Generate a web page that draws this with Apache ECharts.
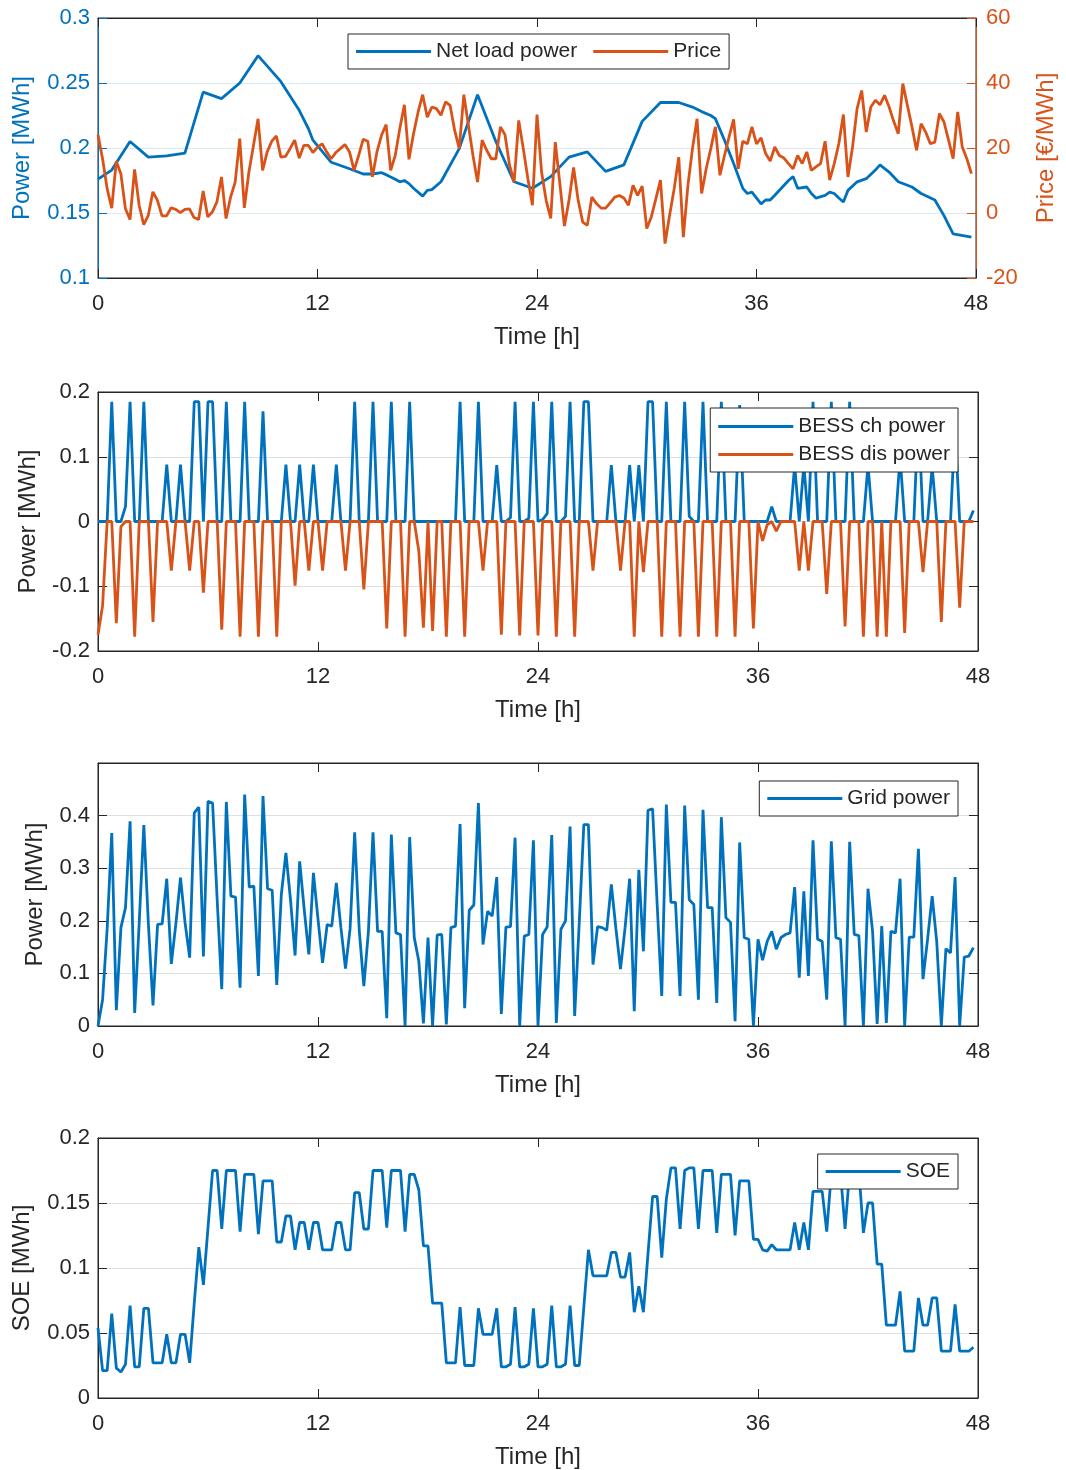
<!DOCTYPE html>
<html>
<head>
<meta charset="utf-8">
<title>BESS operation over 48 h</title>
<script src="https://cdn.jsdelivr.net/npm/echarts@6/dist/echarts.min.js"></script>
<style>
  html, body { margin: 0; padding: 0; background: #ffffff; }
  #chart { width: 1066px; height: 1470px; }
</style>
</head>
<body>
<div id="chart"></div>
<script>
// ---- data: 15-minute resolution over 48 hours (192 steps) ----
const STEP_HOURS = 0.25;
const timeTicks = { min: 0, max: 48, interval: 12 };

// Net load power [MWh]: [time h, value]
const netLoadPower = [
  [0, 0.176], [0.75, 0.183], [1.75, 0.205], [2.75, 0.193], [3.75, 0.194], [4.75, 0.196],
  [5.75, 0.243], [6.75, 0.238], [7.75, 0.25], [8.75, 0.271], [10, 0.251], [11, 0.229],
  [11.5, 0.215], [11.75, 0.206], [12.75, 0.189], [13.75, 0.184], [14.5, 0.18], [15, 0.18],
  [15.5, 0.181], [15.75, 0.1795], [16.25, 0.176], [16.5, 0.174], [16.75, 0.175], [17, 0.1726],
  [17.25, 0.169], [17.75, 0.163], [18, 0.1674], [18.25, 0.168], [18.75, 0.174], [19.75, 0.1995],
  [20.75, 0.241], [21.75, 0.205], [22.75, 0.174], [23.75, 0.169], [24.75, 0.178], [25.75, 0.193],
  [26.75, 0.197], [27.75, 0.182], [28.75, 0.187], [29.75, 0.2205], [30.75, 0.235], [31.75, 0.235],
  [32.5, 0.2315], [33, 0.228], [33.5, 0.225], [33.75, 0.2226], [34.25, 0.206], [34.75, 0.188],
  [35.25, 0.169], [35.5, 0.165], [35.75, 0.166], [36.25, 0.157], [36.5, 0.16], [36.75, 0.16],
  [37, 0.1636], [37.75, 0.175], [38, 0.178], [38.25, 0.169], [38.75, 0.17], [39, 0.165],
  [39.25, 0.1615], [39.75, 0.1636], [40, 0.166], [40.25, 0.165], [40.5, 0.1615], [40.75, 0.1585],
  [41, 0.1674], [41.5, 0.174], [42, 0.1764], [42.5, 0.183], [42.75, 0.187], [43.25, 0.1815],
  [43.75, 0.174], [44.5, 0.17], [45, 0.165], [45.75, 0.16], [46.25, 0.148], [46.75, 0.134],
  [47.75, 0.1315]
];

// Price [EUR/MWh]
const price = [
  24.1, 16.7, 7.5, 1.5, 15.9, 12.1, 1.3, -2.0,
  13.4, 2.4, -3.6, -0.7, 6.5, 3.9, -0.9, -0.9,
  1.6, 1.1, 0.1, 1.1, 1.3, -1.4, -2.0, 6.8,
  -1.2, 0.3, 3.4, 11.1, -1.7, 4.9, 9.5, 22.9,
  1.6, 12.6, 20.8, 29.0, 13.1, 18.8, 22.1, 23.7,
  17.2, 17.4, 19.8, 22.4, 16.9, 20.8, 20.8, 18.6,
  20.3, 21.3, 18.8, 16.7, 18.6, 19.8, 21.1, 18.8,
  13.1, 17.7, 22.7, 22.1, 11.1, 18.8, 23.9, 27.2,
  13.1, 17.7, 26.0, 33.3, 16.5, 24.4, 31.1, 36.4,
  29.5, 32.6, 32.1, 30.1, 34.2, 33.1, 25.4, 19.8,
  36.4, 27.0, 17.7, 9.5, 22.4, 19.3, 16.7, 16.7,
  26.5, 24.1, 14.7, 9.5, 28.5, 19.8, 10.6, 2.4,
  30.3, 12.6, 3.9, -1.7, 21.8, 9.0, -4.0, 3.9,
  14.0, 3.9, -2.8, -3.8, 4.9, 2.9, 1.5, 1.5,
  3.1, 4.9, 5.4, 4.6, 2.4, 8.5, 5.4, 8.3,
  -4.8, -1.2, 4.4, 10.1, -9.4, -0.7, 7.5, 17.2,
  -7.4, 8.5, 19.8, 29.0, 6.0, 13.6, 19.8, 26.5,
  11.6, 17.7, 23.4, 28.8, 13.6, 22.1, 21.3, 26.5,
  21.3, 23.1, 18.3, 16.0, 20.3, 17.7, 16.9, 15.2,
  13.6, 17.7, 15.2, 18.8, 13.1, 14.2, 15.2, 22.1,
  10.1, 15.2, 21.3, 30.3, 11.1, 20.3, 32.1, 37.7,
  24.9, 32.6, 34.7, 33.3, 36.2, 32.6, 28.2, 24.4,
  39.8, 33.1, 26.5, 19.3, 27.5, 24.9, 21.3, 21.8,
  30.6, 28.0, 22.4, 16.7, 31.1, 20.3, 16.7, 12.1
];

// BESS charging power [MWh]
const bessCharge = [
  0, 0, 0, 0.185, 0, 0, 0.023, 0.185,
  0, 0, 0.185, 0, 0, 0, 0, 0.088,
  0, 0, 0.088, 0, 0, 0.185, 0.185, 0,
  0.185, 0.185, 0, 0, 0.185, 0, 0, 0,
  0.185, 0, 0, 0, 0.17, 0, 0, 0,
  0, 0.088, 0, 0, 0.088, 0, 0, 0.088,
  0, 0, 0, 0, 0.088, 0, 0, 0,
  0.185, 0, 0, 0, 0.185, 0, 0, 0,
  0.185, 0, 0, 0, 0.185, 0, 0, 0,
  0, 0, 0, 0, 0, 0, 0, 0.185,
  0, 0, 0, 0.185, 0, 0, 0, 0.087,
  0, 0, 0.006, 0.185, 0, 0, 0.005, 0.185,
  0, 0.003, 0.012, 0.185, 0, 0, 0.008, 0.185,
  0, 0, 0.185, 0.185, 0, 0, 0, 0,
  0.087, 0, 0, 0, 0.087, 0, 0.087, 0,
  0.185, 0.185, 0, 0, 0.185, 0, 0, 0,
  0.185, 0.008, 0, 0, 0.185, 0, 0, 0,
  0.185, 0, 0, 0, 0.18, 0, 0, 0,
  0, 0, 0, 0.023, 0, 0, 0, 0,
  0.087, 0, 0.087, 0, 0.185, 0, 0, 0,
  0.185, 0, 0, 0, 0.185, 0, 0, 0,
  0.087, 0, 0, 0, 0, 0, 0, 0.1,
  0, 0, 0, 0.168, 0, 0, 0.085, 0,
  0, 0, 0, 0.149, 0, 0, 0, 0.017
];

// BESS discharging power [MWh] (negative)
const bessDischarge = [
  -0.175, -0.13, 0, 0, -0.157, -0.008, 0, 0,
  -0.178, 0, 0, 0, -0.155, 0, 0, 0,
  -0.076, 0, 0, 0, -0.076, 0, 0, -0.11,
  0, 0, 0, -0.167, 0, 0, 0, -0.178,
  0, 0, 0, -0.178, 0, 0, 0, -0.178,
  0, 0, 0, -0.099, 0, 0, -0.076, 0,
  0, -0.076, 0, 0, 0, 0, -0.076, 0,
  0, 0, -0.105, 0, 0, 0, 0, -0.165,
  0, 0, 0, -0.178, 0, 0, -0.046, -0.164,
  0, -0.169, 0, 0, -0.178, 0, 0, 0,
  -0.178, 0, 0, 0, -0.076, 0, 0, 0,
  -0.175, 0, 0, 0, -0.176, 0, 0, 0,
  -0.176, 0, 0, 0, -0.178, 0, 0, 0,
  -0.178, 0, 0, 0, -0.076, 0, 0, 0,
  0, 0, -0.076, 0, 0, -0.178, 0, -0.078,
  0, 0, 0, -0.178, 0, 0, 0, -0.178,
  0, 0, 0, -0.178, 0, 0, 0, -0.178,
  0, 0, 0, -0.178, 0, 0, 0, -0.165,
  0, -0.03, -0.005, 0, -0.015, 0, 0, 0,
  0, -0.076, 0, -0.076, 0, 0, 0, -0.112,
  0, 0, 0, -0.162, 0, 0, 0, -0.178,
  0, 0, -0.178, 0, -0.178, 0, 0, 0,
  -0.172, 0, 0, 0, -0.078, 0, 0, 0,
  -0.155, 0, 0, 0, -0.133, 0, 0, 0
];

// Grid power [MWh]
const gridPower = [
  0, 0.05, 0.185, 0.367, 0.03, 0.187, 0.225, 0.389,
  0.025, 0.198, 0.382, 0.193, 0.039, 0.193, 0.194, 0.28,
  0.118, 0.195, 0.282, 0.196, 0.13, 0.405, 0.416, 0.132,
  0.427, 0.424, 0.24, 0.07, 0.426, 0.247, 0.245, 0.073,
  0.44, 0.264, 0.266, 0.095, 0.437, 0.261, 0.258, 0.078,
  0.25, 0.329, 0.24, 0.134, 0.313, 0.221, 0.136, 0.291,
  0.203, 0.12, 0.193, 0.19, 0.272, 0.187, 0.109, 0.185,
  0.368, 0.182, 0.076, 0.18, 0.368, 0.18, 0.18, 0.015,
  0.364, 0.177, 0.174, 0, 0.359, 0.168, 0.123, 0.005,
  0.168, 0, 0.173, 0.174, 0.003, 0.187, 0.19, 0.384,
  0.034, 0.22, 0.23, 0.424, 0.155, 0.218, 0.209, 0.283,
  0.023, 0.188, 0.189, 0.358, 0, 0.171, 0.174, 0.353,
  0, 0.174, 0.188, 0.363, 0.006, 0.184, 0.2, 0.379,
  0.019, 0.196, 0.383, 0.383, 0.117, 0.189, 0.187, 0.182,
  0.269, 0.185, 0.108, 0.187, 0.28, 0.028, 0.297, 0.142,
  0.41, 0.413, 0.231, 0.057, 0.421, 0.235, 0.235, 0.057,
  0.419, 0.24, 0.231, 0.05, 0.411, 0.225, 0.225, 0.044,
  0.397, 0.206, 0.197, 0.009, 0.349, 0.168, 0.165, 0,
  0.165, 0.125, 0.161, 0.18, 0.146, 0.168, 0.174, 0.177,
  0.264, 0.092, 0.256, 0.095, 0.353, 0.165, 0.161, 0.05,
  0.351, 0.168, 0.165, 0, 0.35, 0.174, 0.172, 0,
  0.261, 0.18, 0.004, 0.19, 0.006, 0.18, 0.177, 0.28,
  0, 0.169, 0.169, 0.337, 0.089, 0.165, 0.247, 0.16,
  0, 0.147, 0.139, 0.283, 0, 0.131, 0.133, 0.149
];

// State of energy [MWh]
const soe = [
  0.054, 0.021, 0.021, 0.065, 0.023, 0.02, 0.026, 0.071,
  0.024, 0.024, 0.069, 0.069, 0.027, 0.027, 0.027, 0.049,
  0.027, 0.027, 0.049, 0.049, 0.027, 0.073, 0.116, 0.087,
  0.131, 0.175, 0.175, 0.13, 0.175, 0.175, 0.175, 0.128,
  0.172, 0.172, 0.172, 0.126, 0.167, 0.167, 0.167, 0.12,
  0.12, 0.14, 0.14, 0.114, 0.135, 0.135, 0.114, 0.135,
  0.135, 0.114, 0.114, 0.114, 0.135, 0.135, 0.114, 0.114,
  0.158, 0.158, 0.13, 0.13, 0.175, 0.175, 0.175, 0.131,
  0.175, 0.175, 0.175, 0.128, 0.172, 0.172, 0.16, 0.117,
  0.117, 0.073, 0.073, 0.073, 0.027, 0.027, 0.027, 0.07,
  0.025, 0.025, 0.025, 0.069, 0.049, 0.049, 0.049, 0.069,
  0.024, 0.024, 0.026, 0.07, 0.024, 0.024, 0.026, 0.069,
  0.024, 0.024, 0.026, 0.071, 0.024, 0.024, 0.026, 0.071,
  0.025, 0.025, 0.07, 0.114, 0.094, 0.094, 0.094, 0.094,
  0.112, 0.112, 0.093, 0.093, 0.112, 0.066, 0.086, 0.066,
  0.111, 0.155, 0.155, 0.108, 0.153, 0.177, 0.177, 0.13,
  0.175, 0.177, 0.177, 0.13, 0.175, 0.175, 0.175, 0.127,
  0.172, 0.172, 0.172, 0.125, 0.167, 0.167, 0.167, 0.122,
  0.122, 0.114, 0.113, 0.118, 0.114, 0.114, 0.114, 0.114,
  0.135, 0.114, 0.135, 0.114, 0.159, 0.159, 0.159, 0.128,
  0.173, 0.173, 0.173, 0.13, 0.175, 0.175, 0.175, 0.127,
  0.15, 0.15, 0.103, 0.103, 0.056, 0.056, 0.056, 0.082,
  0.036, 0.036, 0.036, 0.077, 0.056, 0.056, 0.077, 0.077,
  0.036, 0.036, 0.036, 0.072, 0.036, 0.036, 0.036, 0.039
];

// ---- styling ----
const FONT = '"Liberation Sans", Arial, Helvetica, sans-serif';
const INK = '#262626';
const BLUE = '#0072BD';
const ORANGE = '#D95319';
const GRID_GRAY = '#dfdfdf';
const GRID_BLUE = '#d9eaf5';

// plot rectangles of the four stacked panels
const panels = [
  { top: 18, height: 260 },
  { top: 392, height: 259 },
  { top: 763, height: 263 },
  { top: 1138, height: 260 }
];

const toSeries = values => values.map((v, i) => [i * STEP_HOURS, v]);
const tickText = v => String(Number(v.toFixed(3)));

function edgeLine(color) {
  return { show: true, onZero: false, lineStyle: { color, width: 1 } };
}
function inTicks(color) {
  return { show: true, inside: true, length: 9, lineStyle: { color, width: 1 } };
}

function bottomAxis(gi) {
  return {
    gridIndex: gi, type: 'value', position: 'bottom',
    min: timeTicks.min, max: timeTicks.max, interval: timeTicks.interval,
    name: 'Time [h]', nameLocation: 'middle', nameGap: 47,
    nameTextStyle: { fontFamily: FONT, fontSize: 24, color: INK },
    axisLine: edgeLine(INK),
    axisTick: inTicks(INK),
    axisLabel: { fontFamily: FONT, fontSize: 22, color: INK, margin: 15 },
    splitLine: { show: false }
  };
}
function topAxis(gi) {
  return {
    gridIndex: gi, type: 'value', position: 'top',
    min: timeTicks.min, max: timeTicks.max, interval: timeTicks.interval,
    axisLine: edgeLine(INK),
    axisTick: inTicks(INK),
    axisLabel: { show: false },
    splitLine: { show: false }
  };
}
function leftAxis(gi, min, max, interval, name, nameGap, color, gridColor) {
  return {
    gridIndex: gi, type: 'value', position: 'left',
    min, max, interval,
    name, nameLocation: 'middle', nameGap,
    nameTextStyle: { fontFamily: FONT, fontSize: 24, color },
    axisLine: edgeLine(color),
    axisTick: inTicks(color),
    axisLabel: { fontFamily: FONT, fontSize: 22, color, margin: 8, formatter: tickText },
    splitLine: { show: true, lineStyle: { color: gridColor, width: 1 } }
  };
}
function rightTicksAxis(gi, min, max, interval) {
  return {
    gridIndex: gi, type: 'value', position: 'right',
    min, max, interval,
    axisLine: edgeLine(INK),
    axisTick: inTicks(INK),
    axisLabel: { show: false },
    splitLine: { show: false }
  };
}

const xAxis = [];
panels.forEach((p, gi) => { xAxis.push(bottomAxis(gi), topAxis(gi)); });

const powerAxis = leftAxis(0, 0.1, 0.3, 0.05, 'Power [MWh]', 64, BLUE, GRID_BLUE);
const priceAxis = {
  gridIndex: 0, type: 'value', position: 'right',
  min: -20, max: 60, interval: 20,
  name: 'Price [€/MWh]', nameLocation: 'middle', nameGap: 58,
  nameTextStyle: { fontFamily: FONT, fontSize: 24, color: ORANGE },
  axisLine: edgeLine(ORANGE),
  axisTick: inTicks(ORANGE),
  axisLabel: { fontFamily: FONT, fontSize: 22, color: ORANGE, margin: 10 },
  splitLine: { show: false }
};
const besAxis = leftAxis(1, -0.2, 0.2, 0.1, 'Power [MWh]', 58, INK, GRID_GRAY);
const gridAxis = leftAxis(2, 0, 0.5, 0.1, 'Power [MWh]', 51, INK, GRID_GRAY);
gridAxis.axisLabel.showMaxLabel = false;
const soeAxis = leftAxis(3, 0, 0.2, 0.05, 'SOE [MWh]', 64, INK, GRID_GRAY);

const yAxis = [
  powerAxis, priceAxis,
  besAxis, rightTicksAxis(1, -0.2, 0.2, 0.1),
  gridAxis, rightTicksAxis(2, 0, 0.5, 0.1),
  soeAxis, rightTicksAxis(3, 0, 0.2, 0.05)
];

function line(name, data, color, xi, yi) {
  return {
    name, type: 'line', data, xAxisIndex: xi, yAxisIndex: yi,
    symbol: 'none', showSymbol: false, clip: false,
    lineStyle: { color, width: 2.8 }, itemStyle: { color },
    emphasis: { disabled: true }, z: 3
  };
}

const legendBase = {
  icon: 'rect', itemWidth: 75, itemHeight: 3,
  padding: [7, 8, 7, 8], borderColor: INK, borderWidth: 1, borderRadius: 0,
  backgroundColor: '#ffffff', selectedMode: false,
  textStyle: { fontFamily: FONT, fontSize: 21, color: INK }
};

const option = {
  animation: false,
  backgroundColor: '#ffffff',
  grid: panels.map(p => ({
    left: 98, right: 88, top: p.top, height: p.height,
    show: true, borderColor: INK, borderWidth: 1, backgroundColor: 'transparent'
  })),
  xAxis,
  yAxis,
  legend: [
    Object.assign({}, legendBase, { data: ['Net load power', 'Price'], orient: 'horizontal', left: 348, top: 34, itemGap: 16 }),
    Object.assign({}, legendBase, { data: ['BESS ch power', 'BESS dis power'], orient: 'vertical', right: 108, top: 408, itemGap: 7, padding: [8, 8, 7, 8] }),
    Object.assign({}, legendBase, { data: ['Grid power'], right: 108, top: 781 }),
    Object.assign({}, legendBase, { data: ['SOE'], right: 108, top: 1154 })
  ],
  series: [
    line('Net load power', netLoadPower, BLUE, 0, 0),
    line('Price', toSeries(price), ORANGE, 0, 1),
    line('BESS ch power', toSeries(bessCharge), BLUE, 2, 2),
    line('BESS dis power', toSeries(bessDischarge), ORANGE, 2, 2),
    line('Grid power', toSeries(gridPower), BLUE, 4, 4),
    line('SOE', toSeries(soe), BLUE, 6, 6)
  ]
};

const chart = echarts.init(document.getElementById('chart'), null, { renderer: 'canvas' });
chart.setOption(option);
</script>
</body>
</html>
